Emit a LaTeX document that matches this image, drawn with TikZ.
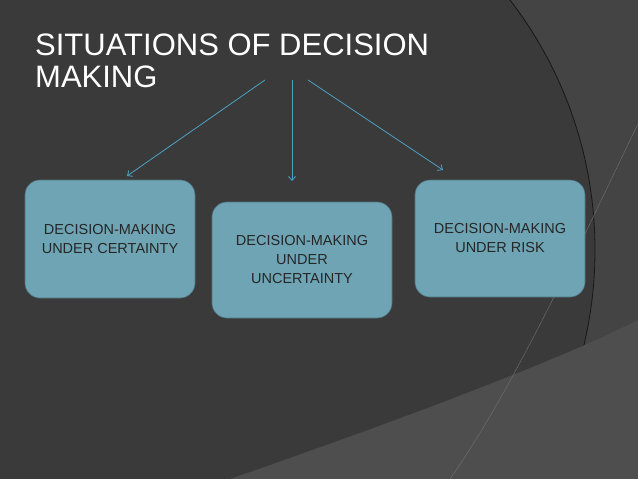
\documentclass[tikz,border=0pt]{standalone}
\usepackage{fontspec}
\setmainfont{Liberation Sans}
\usetikzlibrary{arrows.meta}
\definecolor{bg}{HTML}{3A3A3A}
\definecolor{bgl}{HTML}{444444}
\definecolor{bgll}{HTML}{4E4E4E}
\definecolor{boxc}{HTML}{6FA4B4}
\definecolor{arr}{HTML}{4BA3C3}
\tikzset{
  sbox/.style={draw=boxc!70!black, line width=0.6pt, fill=boxc, rounded corners=15pt, align=center, font=\fontsize{14.5}{19}\selectfont, text=black!85, inner sep=2pt},
  conn/.style={draw=arr, line width=0.8pt, -{Straight Barb[length=4pt,width=7pt]}}
}
\begin{document}
\begin{tikzpicture}[x=1pt,y=-1pt]
\useasboundingbox (0,0) rectangle (638,479);
\fill[bgl] (0,0) rectangle (638,479);
\begin{scope}
\clip (0,0) rectangle (638,479);
\fill[bg] (185,250) circle (410);
\draw[black!60!bg, line width=0.8pt] (185,250) circle (410);
\fill[bgll] (230,479) .. controls (400,420) and (560,360) .. (638,320) -- (638,479) -- cycle;
\draw[bgll!80!white, line width=0.4pt] (450,479) .. controls (520,380) and (600,200) .. (640,120);
\end{scope}
\node[anchor=west, text=white, font=\fontsize{31}{32}\selectfont, align=left, inner sep=0pt] (title) at (35,61) {SITUATIONS OF DECISION\\MAKING};
\node[sbox, minimum width=170pt, minimum height=118pt] (b1) at (110,239) {DECISION-MAKING\\UNDER CERTAINTY};
\node[sbox, minimum width=180pt, minimum height=116pt] (b2) at (302,260) {DECISION-MAKING\\UNDER\\UNCERTAINTY};
\node[sbox, minimum width=170pt, minimum height=117pt] (b3) at (500,238.5) {DECISION-MAKING\\UNDER RISK};
\coordinate (s1) at (265,80);
\coordinate (s2) at (292,80);
\coordinate (s3) at (308,80);
\coordinate (e1) at (127,176);
\coordinate (e2) at (292,181);
\coordinate (e3) at (443,170);
\draw[conn] (s1) -- (e1);
\draw[conn] (s2) -- (e2);
\draw[conn] (s3) -- (e3);
\end{tikzpicture}
\end{document}
